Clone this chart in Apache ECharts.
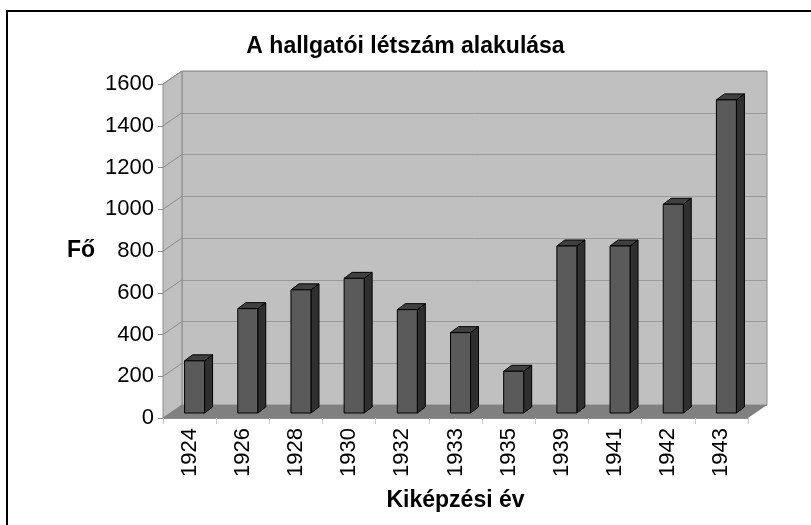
<!DOCTYPE html>
<html>
<head>
<meta charset="utf-8">
<script src="https://cdn.jsdelivr.net/npm/echarts@6/dist/echarts.min.js"></script>
<style>
html, body { margin: 0; padding: 0; background: #fff; }
#main { width: 811px; height: 525px; }
</style>
</head>
<body>
<div id="main"></div>
<script>
// data
var years = ['1924', '1926', '1928', '1930', '1932', '1933', '1935', '1939', '1941', '1942', '1943'];
var students = [250, 500, 590, 645, 495, 385, 200, 800, 800, 1000, 1500];
var yTicks = [0, 200, 400, 600, 800, 1000, 1200, 1400, 1600];

var FONT = '"Liberation Sans", Arial, sans-serif';
var WALL_DX = 19, WALL_DY = -13;   // depth of the box
var BAR_DX = 8, BAR_DY = -6;       // depth of one bar
var EDGE = '#8c8c8c';

var myChart = echarts.init(document.getElementById('main'));

// side wall + floor of the 3d box
function renderWalls(params, api) {
    var cs = params.coordSys;
    var x0 = cs.x, x1 = cs.x + cs.width;
    var yb = cs.y + cs.height;
    var children = [];
    children.push({
        type: 'polygon',
        shape: { points: [[x0, cs.y], [x0 + WALL_DX, cs.y + WALL_DY], [x0 + WALL_DX, yb + WALL_DY], [x0, yb]] },
        style: { fill: '#c0c0c0', stroke: EDGE, lineWidth: 1 }
    });
    yTicks.forEach(function (t) {
        var y = api.coord([0, t])[1];
        children.push({
            type: 'line',
            shape: { x1: x0, y1: y, x2: x0 + WALL_DX, y2: y + WALL_DY },
            style: { stroke: EDGE, lineWidth: 1 }
        });
    });
    children.push({
        type: 'polygon',
        shape: { points: [[x0, yb], [x0 + WALL_DX, yb + WALL_DY], [x1 + WALL_DX, yb + WALL_DY], [x1, yb]] },
        style: { fill: '#808080' }
    });
    return { type: 'group', children: children };
}

// one 3d bar: front, side, top
function renderBar(params, api) {
    var i = api.value(0);
    var base = api.coord([i, 0]);
    var top = api.coord([i, api.value(1)]);
    var xl = base[0] - 5, xr = xl + 20;
    var yb = base[1] - 5, yt = top[1] - 5;
    var line = { stroke: '#000', lineWidth: 1 };
    return {
        type: 'group',
        children: [
            {
                type: 'polygon',
                shape: { points: [[xr, yt], [xr + BAR_DX, yt + BAR_DY], [xr + BAR_DX, yb + BAR_DY], [xr, yb]] },
                style: Object.assign({ fill: '#2f2f2f' }, line)
            },
            {
                type: 'polygon',
                shape: { points: [[xl, yt], [xl + BAR_DX, yt + BAR_DY], [xr + BAR_DX, yt + BAR_DY], [xr, yt]] },
                style: Object.assign({ fill: '#404040' }, line)
            },
            {
                type: 'rect',
                shape: { x: xl, y: yt, width: xr - xl, height: yb - yt },
                style: Object.assign({ fill: '#5a5a5a' }, line)
            }
        ]
    };
}

option = {
    backgroundColor: '#fff',
    animation: false,
    title: {
        text: 'A hallgatói létszám alakulása',
        left: 'center',
        top: 30,
        textStyle: { fontFamily: FONT, fontSize: 23, fontWeight: 'bold', color: '#000' }
    },
    graphic: [
        {
            type: 'rect',
            shape: { x: 7, y: 11, width: 900, height: 600 },
            style: { fill: null, stroke: '#000', lineWidth: 2 },
            silent: true
        }
    ],
    grid: [
        // front plane (axes)
        { left: 163, right: 63, top: 84, bottom: 107 },
        // back wall
        {
            left: 182, right: 44, top: 71, bottom: 120,
            show: true, backgroundColor: '#c0c0c0', borderColor: EDGE, borderWidth: 1
        }
    ],
    xAxis: [
        {
            gridIndex: 0,
            type: 'category',
            data: years,
            boundaryGap: true,
            axisLine: { lineStyle: { color: EDGE } },
            axisTick: { show: true, length: 6, lineStyle: { color: '#c8c8c8' } },
            axisLabel: { rotate: 90, margin: 10, fontSize: 22, color: '#000', fontFamily: FONT },
            name: 'Kiképzési év',
            nameLocation: 'middle',
            nameGap: 71,
            nameTextStyle: { fontFamily: FONT, fontSize: 23, fontWeight: 'bold', color: '#000' }
        },
        {
            gridIndex: 1,
            type: 'category',
            data: years,
            show: false
        }
    ],
    yAxis: [
        {
            gridIndex: 0,
            type: 'value',
            min: 0,
            max: 1600,
            interval: 200,
            axisLine: { show: true, lineStyle: { color: EDGE } },
            axisTick: { show: true, length: 5, lineStyle: { color: EDGE } },
            axisLabel: {
                margin: 9, fontSize: 22, color: '#000', fontFamily: FONT,
                formatter: function (v) { return String(v); }
            },
            splitLine: { show: false },
            name: 'Fő',
            nameLocation: 'middle',
            nameRotate: 0,
            nameGap: 68,
            nameTextStyle: { fontFamily: FONT, fontSize: 23, fontWeight: 'bold', color: '#000' }
        },
        {
            gridIndex: 1,
            type: 'value',
            min: 0,
            max: 1600,
            interval: 200,
            axisLine: { show: false },
            axisTick: { show: false },
            axisLabel: { show: false },
            splitLine: { show: true, lineStyle: { color: '#999' } }
        }
    ],
    series: [
        {
            name: 'walls',
            type: 'custom',
            xAxisIndex: 0,
            yAxisIndex: 0,
            z: 1,
            silent: true,
            clip: false,
            renderItem: renderWalls,
            data: [[0, 0]]
        },
        {
            name: 'Fő',
            type: 'custom',
            xAxisIndex: 0,
            yAxisIndex: 0,
            z: 3,
            clip: false,
            renderItem: renderBar,
            data: students.map(function (v, i) { return [i, v]; })
        }
    ]
};

option && myChart.setOption(option);
</script>
</body>
</html>
